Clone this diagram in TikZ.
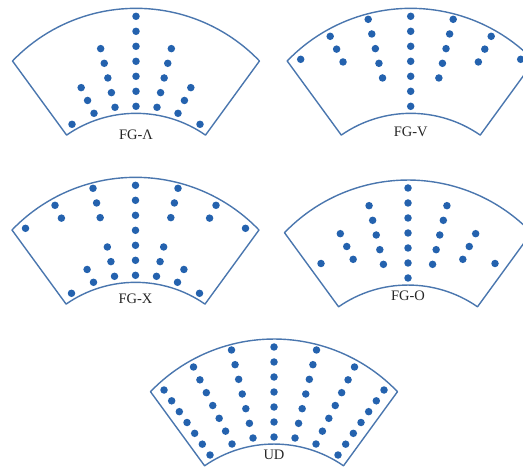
\documentclass[tikz,border=0pt]{standalone}
\usepackage{fontspec}
\setmainfont{Liberation Serif}
\definecolor{edgec}{RGB}{74,118,174}
\definecolor{dotc}{RGB}{36,98,174}
\tikzset{
  fanline/.style={draw=edgec, line width=1.4pt, line join=round},
  dotnode/.style={circle, fill=dotc, draw=none, inner sep=0pt, minimum size=7.5pt},
  lbl/.style={font=\fontsize{14.5}{16}\selectfont, text=black!85, inner sep=0pt}
}
% ray parameters: outer dot (xa,ya), inner dot (xb,yb), for ray |r|
\newcommand\raypar[1]{%
  \ifcase#1 \def\xa{0}\def\ya{8}\def\xb{0}\def\yb{98}%
  \or \def\xa{42.5}\def\ya{11}\def\xb{21}\def\yb{99}%
  \or \def\xa{80.5}\def\ya{28}\def\xb{42}\def\yb{105}%
  \or \def\xa{110}\def\ya{51}\def\xb{64}\def\yb{116}\fi}
\newcommand\fandots[2]{%
  \foreach \a/\plist in {#2}{%
    \raypar{\a}%
    \foreach \p in \plist {%
      \ifnum\a=0
        \node[dotnode] (#1c\a\p) at (0,{\ya+(\yb-\ya)*(\p-1)/6}) {};
      \else
        \node[dotnode] (#1l\a\p) at ({-(\xa+(\xb-\xa)*(\p-1)/6)},{\ya+(\yb-\ya)*(\p-1)/6}) {};
        \node[dotnode] (#1r\a\p) at ({\xa+(\xb-\xa)*(\p-1)/6},{\ya+(\yb-\ya)*(\p-1)/6}) {};
      \fi
    }}}
\newcommand\fan[6]{%
  \begin{scope}[shift={(#2,#3)}]
    \draw[fanline] (-123.5,52.7) arc[start angle=-136.2, end angle=-43.8, radius=171.1pt]
      -- (69.5,126.8) arc[start angle=-55.2, end angle=-124.8, radius=121.7pt] -- cycle;
    \fandots{#1}{#6}
    \node[lbl] (#1lab) at (0,#4) {#5};
  \end{scope}}
\begin{document}
\begin{tikzpicture}[x=1pt, y=1pt, yscale=-1]
  \useasboundingbox (0,0) rectangle (523,468);
  \clip (0,0) rectangle (523,468);
  \fan{L}{136}{8.3}{126.7}{FG-Λ}{0/{1,...,7}, 1/{3,...,7}, 2/{5,6,7}, 3/{7}}
  \fan{V}{410.7}{8.3}{123.4}{FG-V}{0/{1,...,7}, 1/{1,...,5}, 2/{1,2,3}, 3/{1}}
  \fan{X}{135.5}{177.3}{121}{FG-X}{0/{1,...,7}, 1/{1,2,3,5,6,7}, 2/{1,2,6,7}, 3/{1,7}}
  \fan{O}{408}{180}{115.5}{FG-O}{0/{1,...,7}, 1/{2,...,6}, 2/{3,4,5}, 3/{4}}
  \fan{U}{274}{339}{116.3}{UD}{0/{1,...,7}, 1/{1,...,7}, 2/{1,...,7}, 3/{1,...,7}}
\end{tikzpicture}
\end{document}
